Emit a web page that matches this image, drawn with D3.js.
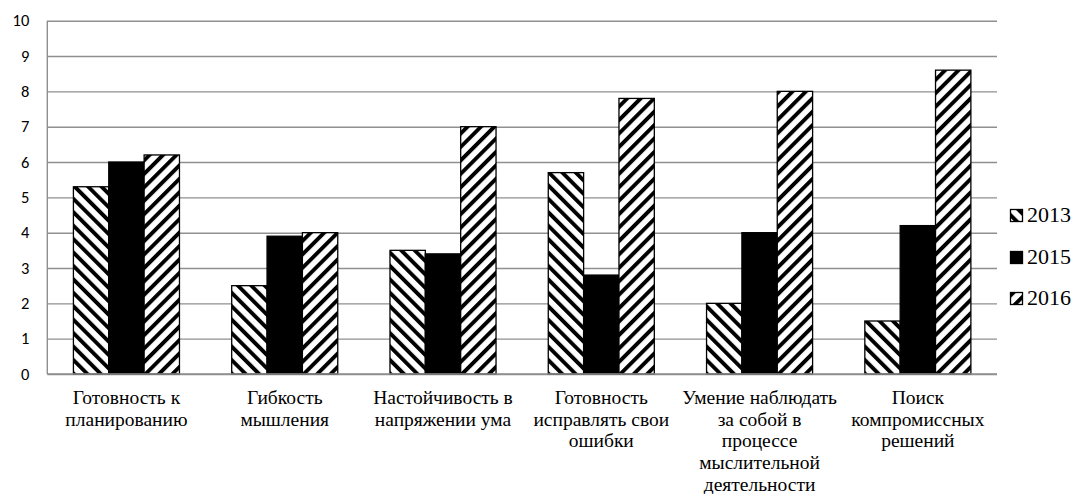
<!DOCTYPE html>
<html>
<head>
<meta charset="utf-8">
<script src="https://cdn.jsdelivr.net/npm/d3@7/dist/d3.min.js"></script>
<style>
  html, body { margin: 0; padding: 0; background: #fff; }
  svg { display: block; }
  .serif { font-family: "Liberation Serif", "DejaVu Serif", serif; }
  .sans { font-family: Carlito, "Liberation Sans", "Open Sans", sans-serif; }
</style>
</head>
<body>
<svg id="chart" width="1077" height="494"></svg>
<script>
// ---- data ----
const categories = [
  "Готовность к\nпланированию",
  "Гибкость\nмышления",
  "Настойчивость в\nнапряжении ума",
  "Готовность\nисправлять свои\nошибки",
  "Умение наблюдать\nза собой в\nпроцессе\nмыслительной\nдеятельности",
  "Поиск\nкомпромиссных\nрешений"
];
const years = ["2013", "2015", "2016"];
const values2013 = [5.3, 2.5, 3.5, 5.7, 2.0, 1.5];
const values2015 = [6.0, 3.9, 3.4, 2.8, 4.0, 4.2];
const values2016 = [6.2, 4.0, 7.0, 7.8, 8.0, 8.6];
const yTicks = [0, 1, 2, 3, 4, 5, 6, 7, 8, 9, 10];

const seriesValues = { "2013": values2013, "2015": values2015, "2016": values2016 };

// ---- layout ----
const svg = d3.select("#chart");
const plotLeft = 47.3, plotRight = 997, plotTop = 20.7, plotBottom = 374;

const defs = svg.append("defs");
function stripePattern(id, angle) {
  const p = defs.append("pattern")
    .attr("id", id)
    .attr("patternUnits", "userSpaceOnUse")
    .attr("width", 9.5).attr("height", 9.5)
    .attr("patternTransform", `rotate(${angle})`);
  p.append("rect").attr("width", 9.5).attr("height", 9.5).attr("fill", "#fff");
  p.append("rect").attr("x", 0).attr("y", 0).attr("width", 3.9).attr("height", 9.5).attr("fill", "#000");
}
stripePattern("p2013", -45);
stripePattern("p2016", 45);
const fills = { "2013": "url(#p2013)", "2015": "#000", "2016": "url(#p2016)" };

const x = d3.scaleBand().domain(categories).range([plotLeft, plotRight]).paddingInner(0.33).paddingOuter(0.165);
const x1 = d3.scaleBand().domain(years).range([0, x.bandwidth()]);
const y = d3.scaleLinear().domain([0, 10]).range([plotBottom, plotTop]);

// grid + y labels
const yAxis = svg.append("g")
  .attr("transform", `translate(${plotLeft},0)`)
  .call(d3.axisLeft(y).tickValues(yTicks).tickFormat(d3.format("d")).tickSize(-(plotRight - plotLeft)).tickPadding(18));
yAxis.attr("font-family", null);
yAxis.select(".domain").remove();
yAxis.selectAll(".tick line").attr("stroke", "#8f8f8f").attr("stroke-width", 1.4);
yAxis.selectAll(".tick text")
  .attr("class", "sans")
  .attr("font-size", 16.5).attr("fill", "#000");

// left axis line
svg.append("line").attr("x1", plotLeft).attr("x2", plotLeft).attr("y1", y(10)).attr("y2", y(0))
  .attr("stroke", "#8f8f8f").attr("stroke-width", 1.4);

// bars
const groups = svg.append("g").selectAll("g")
  .data(categories).join("g")
  .attr("transform", d => `translate(${x(d)},0)`);
groups.selectAll("rect")
  .data((d, i) => years.map(yr => ({ yr, v: seriesValues[yr][i] })))
  .join("rect")
  .attr("x", d => x1(d.yr))
  .attr("width", x1.bandwidth())
  .attr("y", d => y(d.v))
  .attr("height", d => y(0) - y(d.v))
  .attr("fill", d => fills[d.yr])
  .attr("stroke", "#000").attr("stroke-width", 1.3);

// bottom axis line
svg.append("line").attr("x1", plotLeft).attr("x2", plotRight).attr("y1", y(0)).attr("y2", y(0))
  .attr("stroke", "#8f8f8f").attr("stroke-width", 1.4);

// category labels
const catG = svg.append("g")
  .attr("class", "serif")
  .attr("font-size", 19.5).attr("fill", "#000").attr("text-anchor", "middle");
categories.forEach(c => {
  const cx = x(c) + x.bandwidth() / 2;
  const t = catG.append("text").attr("x", cx).attr("y", 404);
  c.split("\n").forEach((line, i) => {
    t.append("tspan").attr("x", cx).attr("dy", i === 0 ? 0 : 21.7).text(line);
  });
});

// legend
const legendY = [222, 264, 305];
const leg = svg.append("g");
years.forEach((yr, i) => {
  leg.append("rect").attr("x", 1010.5).attr("y", legendY[i] - 12.5).attr("width", 12).attr("height", 12)
    .attr("fill", fills[yr]).attr("stroke", "#000").attr("stroke-width", 1.3);
  leg.append("text").attr("x", 1027).attr("y", legendY[i])
    .attr("class", "serif")
    .attr("font-size", 22).attr("fill", "#000").text(yr);
});
</script>
</body>
</html>
